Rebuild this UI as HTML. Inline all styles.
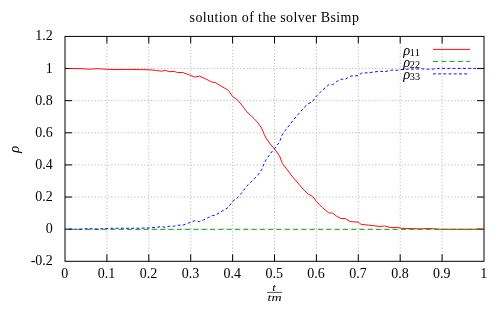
<!DOCTYPE html>
<html><head><meta charset="utf-8"><title>plot</title>
<style>
html,body{margin:0;padding:0;background:#fff;}
svg{display:block;will-change:transform;}
text{font-family:"Liberation Serif",serif;fill:#000;}
.n{font-size:14px;}
.i{font-size:13.5px;font-style:italic;}
.s{font-size:9.5px;font-style:normal;}
.i2{font-size:14.5px;font-style:italic;}
.fi{font-size:9.5px;font-style:italic;}
.g{stroke:#bcbcbc;stroke-width:1;stroke-dasharray:1.2 2.1;fill:none;}
.t{stroke:#000;stroke-width:1;fill:none;}
.f{stroke:#000;stroke-width:1;fill:none;}
.c{fill:none;stroke-width:0.95;stroke-linejoin:round;}
</style></head><body>
<svg width="500" height="313" viewBox="0 0 500 313">
<rect x="0" y="0" width="500" height="313" fill="#fff"/>
<line x1="106.90" y1="36.4" x2="106.90" y2="261.3" class="g"/>
<line x1="148.80" y1="36.4" x2="148.80" y2="261.3" class="g"/>
<line x1="190.70" y1="36.4" x2="190.70" y2="261.3" class="g"/>
<line x1="232.60" y1="36.4" x2="232.60" y2="261.3" class="g"/>
<line x1="274.50" y1="36.4" x2="274.50" y2="261.3" class="g"/>
<line x1="316.40" y1="36.4" x2="316.40" y2="261.3" class="g"/>
<line x1="358.30" y1="36.4" x2="358.30" y2="261.3" class="g"/>
<line x1="400.20" y1="36.4" x2="400.20" y2="261.3" class="g"/>
<line x1="442.10" y1="36.4" x2="442.10" y2="261.3" class="g"/>
<line x1="65.0" y1="229.17" x2="484.0" y2="229.17" class="g"/>
<line x1="65.0" y1="197.04" x2="484.0" y2="197.04" class="g"/>
<line x1="65.0" y1="164.91" x2="484.0" y2="164.91" class="g"/>
<line x1="65.0" y1="132.79" x2="484.0" y2="132.79" class="g"/>
<line x1="65.0" y1="100.66" x2="484.0" y2="100.66" class="g"/>
<line x1="65.0" y1="68.53" x2="484.0" y2="68.53" class="g"/>
<line x1="106.90" y1="261.3" x2="106.90" y2="254.3" class="t"/>
<line x1="106.90" y1="36.4" x2="106.90" y2="43.4" class="t"/>
<line x1="148.80" y1="261.3" x2="148.80" y2="254.3" class="t"/>
<line x1="148.80" y1="36.4" x2="148.80" y2="43.4" class="t"/>
<line x1="190.70" y1="261.3" x2="190.70" y2="254.3" class="t"/>
<line x1="190.70" y1="36.4" x2="190.70" y2="43.4" class="t"/>
<line x1="232.60" y1="261.3" x2="232.60" y2="254.3" class="t"/>
<line x1="232.60" y1="36.4" x2="232.60" y2="43.4" class="t"/>
<line x1="274.50" y1="261.3" x2="274.50" y2="254.3" class="t"/>
<line x1="274.50" y1="36.4" x2="274.50" y2="43.4" class="t"/>
<line x1="316.40" y1="261.3" x2="316.40" y2="254.3" class="t"/>
<line x1="316.40" y1="36.4" x2="316.40" y2="43.4" class="t"/>
<line x1="358.30" y1="261.3" x2="358.30" y2="254.3" class="t"/>
<line x1="358.30" y1="36.4" x2="358.30" y2="43.4" class="t"/>
<line x1="400.20" y1="261.3" x2="400.20" y2="254.3" class="t"/>
<line x1="400.20" y1="36.4" x2="400.20" y2="43.4" class="t"/>
<line x1="442.10" y1="261.3" x2="442.10" y2="254.3" class="t"/>
<line x1="442.10" y1="36.4" x2="442.10" y2="43.4" class="t"/>
<line x1="65.0" y1="229.17" x2="72.0" y2="229.17" class="t"/>
<line x1="484.0" y1="229.17" x2="477.0" y2="229.17" class="t"/>
<line x1="65.0" y1="197.04" x2="72.0" y2="197.04" class="t"/>
<line x1="484.0" y1="197.04" x2="477.0" y2="197.04" class="t"/>
<line x1="65.0" y1="164.91" x2="72.0" y2="164.91" class="t"/>
<line x1="484.0" y1="164.91" x2="477.0" y2="164.91" class="t"/>
<line x1="65.0" y1="132.79" x2="72.0" y2="132.79" class="t"/>
<line x1="484.0" y1="132.79" x2="477.0" y2="132.79" class="t"/>
<line x1="65.0" y1="100.66" x2="72.0" y2="100.66" class="t"/>
<line x1="484.0" y1="100.66" x2="477.0" y2="100.66" class="t"/>
<line x1="65.0" y1="68.53" x2="72.0" y2="68.53" class="t"/>
<line x1="484.0" y1="68.53" x2="477.0" y2="68.53" class="t"/>
<rect x="65.0" y="36.4" width="419.0" height="224.9" class="f"/>
<polyline points="69.0,68.5 80.0,68.6 89.0,69.2 98.0,68.7 106.5,69.3 119.0,69.6 128.0,69.4 140.0,69.6 149.0,69.8 156.4,70.4 161.5,71.2 165.4,70.4 169.2,71.6 174.3,71.5 177.5,72.5 182.6,72.5 188.4,74.5 194.8,77.1 199.3,76.1 203.8,78.0 208.2,80.2 212.1,82.1 215.2,82.5 220.3,85.6 228.4,90.3 232.5,96.4 237.7,100.1 241.7,105.0 246.9,111.8 254.0,118.5 258.1,123.0 261.6,128.1 264.2,134.3 266.1,138.2 270.2,143.9 274.3,148.8 279.4,155.6 282.5,163.7 286.6,168.9 292.7,177.0 298.9,184.2 304.1,190.3 308.2,194.0 312.7,196.4 316.4,201.6 322.5,207.7 328.6,212.8 332.7,213.2 336.8,216.3 340.9,218.5 345.4,218.5 350.1,221.6 358.3,222.2 361.3,224.5 368.7,225.1 380.0,226.5 384.4,226.0 391.0,227.6 397.6,227.4 402.0,228.3 413.0,228.7 421.8,228.9 426.2,228.5 432.8,228.7 439.4,229.3 484.0,229.3" class="c" stroke="#ff0000"/>
<line x1="69" y1="229.35" x2="484.0" y2="229.35" class="c" stroke="#00a000" stroke-dasharray="5 3.3" stroke-width="0.8"/>
<polyline points="69.0,229.2 80.0,229.2 89.0,228.6 98.0,229.1 106.5,228.4 119.0,228.2 128.0,228.3 140.0,228.2 149.0,227.9 156.4,227.3 161.5,226.6 165.4,227.3 169.2,226.2 174.3,226.2 177.5,225.2 182.6,225.2 188.4,223.2 194.8,220.7 199.3,221.7 203.8,219.8 208.2,217.6 212.1,215.7 215.2,215.2 220.3,212.2 228.4,207.4 232.5,201.3 237.7,197.7 241.7,192.8 246.9,185.9 254.0,179.2 258.1,174.8 261.6,169.7 264.2,163.4 266.1,159.6 270.2,153.8 274.3,148.9 279.4,142.2 282.5,134.1 286.6,128.8 292.7,120.8 298.9,113.6 304.1,107.4 308.2,103.8 312.7,101.3 316.4,96.2 322.5,90.1 328.6,84.9 332.7,84.6 336.8,81.4 340.9,79.2 345.4,79.2 350.1,76.2 358.3,75.6 361.3,73.2 368.7,72.7 380.0,71.2 384.4,71.8 391.0,70.2 397.6,70.3 402.0,69.4 413.0,69.1 421.8,68.8 426.2,69.2 432.8,69.1 439.4,68.4 484.0,68.4" class="c" stroke="#0000ff" stroke-dasharray="2.8 2.4" stroke-width="1.1"/>
<line x1="433" y1="49.4" x2="470" y2="49.4" class="c" stroke="#ff0000"/>
<line x1="433" y1="61.4" x2="470" y2="61.4" class="c" stroke="#00a000" stroke-dasharray="5 3.3" stroke-width="0.8"/>
<line x1="433" y1="73.9" x2="467.2" y2="73.9" class="c" stroke="#0000ff" stroke-dasharray="2.9 2.3" stroke-width="1.0"/>
<text transform="translate(52.8,265.30) scale(1,1.09)" text-anchor="end" class="n">-0.2</text>
<text transform="translate(52.8,233.17) scale(1,1.09)" text-anchor="end" class="n">0</text>
<text transform="translate(52.8,201.04) scale(1,1.09)" text-anchor="end" class="n">0.2</text>
<text transform="translate(52.8,168.91) scale(1,1.09)" text-anchor="end" class="n">0.4</text>
<text transform="translate(52.8,136.79) scale(1,1.09)" text-anchor="end" class="n">0.6</text>
<text transform="translate(52.8,104.66) scale(1,1.09)" text-anchor="end" class="n">0.8</text>
<text transform="translate(52.8,72.53) scale(1,1.09)" text-anchor="end" class="n">1</text>
<text transform="translate(52.8,39.80) scale(1,1.09)" text-anchor="end" class="n">1.2</text>
<text transform="translate(64.70,277.9) scale(1,1.01)" text-anchor="middle" class="n">0</text>
<text transform="translate(106.60,277.9) scale(1,1.01)" text-anchor="middle" class="n">0.1</text>
<text transform="translate(148.50,277.9) scale(1,1.01)" text-anchor="middle" class="n">0.2</text>
<text transform="translate(190.40,277.9) scale(1,1.01)" text-anchor="middle" class="n">0.3</text>
<text transform="translate(232.30,277.9) scale(1,1.01)" text-anchor="middle" class="n">0.4</text>
<text transform="translate(274.20,277.9) scale(1,1.01)" text-anchor="middle" class="n">0.5</text>
<text transform="translate(316.10,277.9) scale(1,1.01)" text-anchor="middle" class="n">0.6</text>
<text transform="translate(358.00,277.9) scale(1,1.01)" text-anchor="middle" class="n">0.7</text>
<text transform="translate(399.90,277.9) scale(1,1.01)" text-anchor="middle" class="n">0.8</text>
<text transform="translate(441.80,277.9) scale(1,1.01)" text-anchor="middle" class="n">0.9</text>
<text transform="translate(483.70,277.9) scale(1,1.01)" text-anchor="middle" class="n">1</text>
<text transform="translate(189.6,22.0) scale(1,1.09)" class="n" id="title" textLength="169.3" lengthAdjust="spacing">solution of the solver Bsimp</text>
<text transform="translate(403.2,54.9) scale(1,1.05)" class="i2">ρ</text>
<text transform="translate(409.8,55.5) scale(1,1.0)" class="s" textLength="10.2" lengthAdjust="spacingAndGlyphs">11</text>
<text transform="translate(403.2,66.9) scale(1,1.05)" class="i2">ρ</text>
<text transform="translate(409.8,67.5) scale(1,1.0)" class="s" textLength="10.2" lengthAdjust="spacingAndGlyphs">22</text>
<text transform="translate(403.2,78.9) scale(1,1.05)" class="i2">ρ</text>
<text transform="translate(409.8,79.5) scale(1,1.0)" class="s" textLength="10.2" lengthAdjust="spacingAndGlyphs">33</text>
<text transform="translate(18.8,152.8) rotate(-90)" class="i2">ρ</text>
<text x="272.3" y="290.5" class="fi" textLength="3.6" lengthAdjust="spacingAndGlyphs">t</text>
<line x1="267" y1="292.4" x2="282" y2="292.4" stroke="#000" stroke-width="0.7"/>
<text x="267.5" y="300.6" class="fi" textLength="14" lengthAdjust="spacingAndGlyphs">tm</text>
</svg>
</body></html>
